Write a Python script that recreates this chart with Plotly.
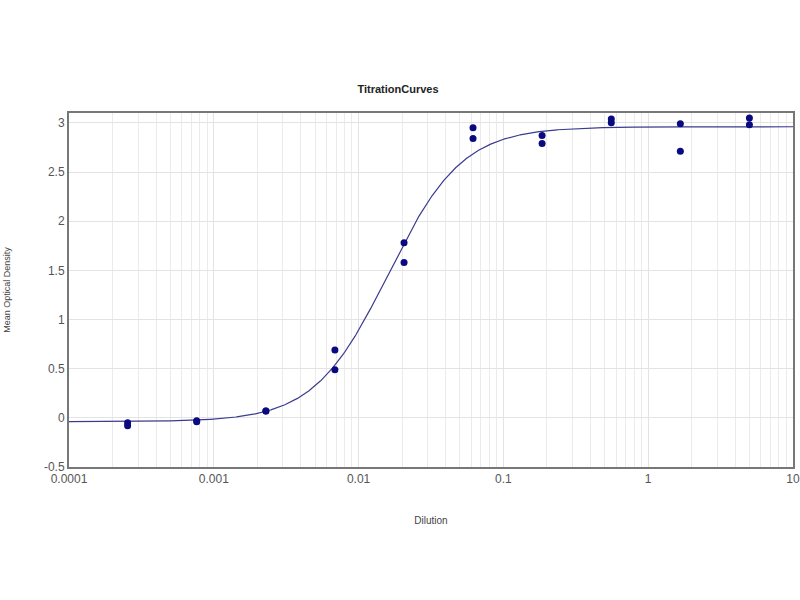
import numpy as np
import plotly.graph_objects as go

# measured dilutions (two replicates each) and optical densities
dilution = [0.000254, 0.000254, 0.000762, 0.000762, 0.00229, 0.00229,
            0.00686, 0.00686, 0.0206, 0.0206, 0.0617, 0.0617,
            0.185, 0.185, 0.556, 0.556, 1.667, 1.667, 5.0, 5.0]
density = [-0.05, -0.08, -0.03, -0.04, 0.07, 0.07,
           0.69, 0.49, 1.78, 1.58, 2.95, 2.84,
           2.87, 2.79, 3.04, 3.00, 2.99, 2.71, 3.05, 2.98]

# 4-parameter logistic fit
fit_bottom = -0.04
fit_top = 2.96
fit_ec50 = 0.016
fit_hill = 1.7

x_ticks = [0.0001, 0.001, 0.01, 0.1, 1, 10]
x_labels = ["0.0001", "0.001", "0.01", "0.1", "1", "10"]
y_ticks = [-0.5, 0, 0.5, 1, 1.5, 2, 2.5, 3]
y_labels = ["-0.5", "0", "0.5", "1", "1.5", "2", "2.5", "3"]

xs = np.logspace(-4, 1, 1500)
ys = fit_bottom + (fit_top - fit_bottom) * (xs / fit_ec50) ** fit_hill / (1 + (xs / fit_ec50) ** fit_hill)

fig = go.Figure()
fig.add_trace(go.Scatter(x=xs, y=ys, mode="lines",
                         line=dict(color="#3b3b8f", width=1.2), hoverinfo="skip"))
fig.add_trace(go.Scatter(x=dilution, y=density, mode="markers",
                         marker=dict(color="#0a0a80", size=7)))

grid = "#e3e3e3"
fig.update_layout(
    width=800, height=600,
    margin=dict(l=69, r=7, t=113, b=133, autoexpand=False),
    paper_bgcolor="white", plot_bgcolor="white",
    showlegend=False,
    font=dict(family="Liberation Sans, Arial, sans-serif", color="#444"),
    title=dict(text="<b>TitrationCurves</b>", x=398 / 800, xanchor="center",
               y=1 - 89 / 600, yref="container", yanchor="middle",
               font=dict(size=11, color="#222")),
    xaxis=dict(type="log", range=[-4, 1], tickvals=x_ticks, ticktext=x_labels,
               showgrid=True, gridcolor=grid, gridwidth=1, automargin=False,
               minor=dict(dtick="D1", showgrid=True, gridcolor="#ebebeb", ticks=""),
               showline=True, linecolor="#777", linewidth=2, mirror=True,
               ticks="", zeroline=False, tickfont=dict(size=12, color="#555"),
               ticklabeloverflow="allow",
               title=dict(text="Dilution", font=dict(size=10, color="#444"), standoff=32)),
    yaxis=dict(range=[-0.5, 3.1], tickvals=y_ticks, ticktext=y_labels,
               showgrid=True, gridcolor=grid, gridwidth=1, automargin=False,
               showline=True, linecolor="#777", linewidth=2, mirror=True,
               ticks="", zeroline=False, tickfont=dict(size=12, color="#555"),
               title=dict(text="Mean Optical Density", font=dict(size=9, color="#444"), standoff=32)),
)

# drop the default page margin so the figure sits at the window's top-left corner
fig.write_html("out.html", config={"displayModeBar": False},
               post_script="document.body.style.margin='0';")
